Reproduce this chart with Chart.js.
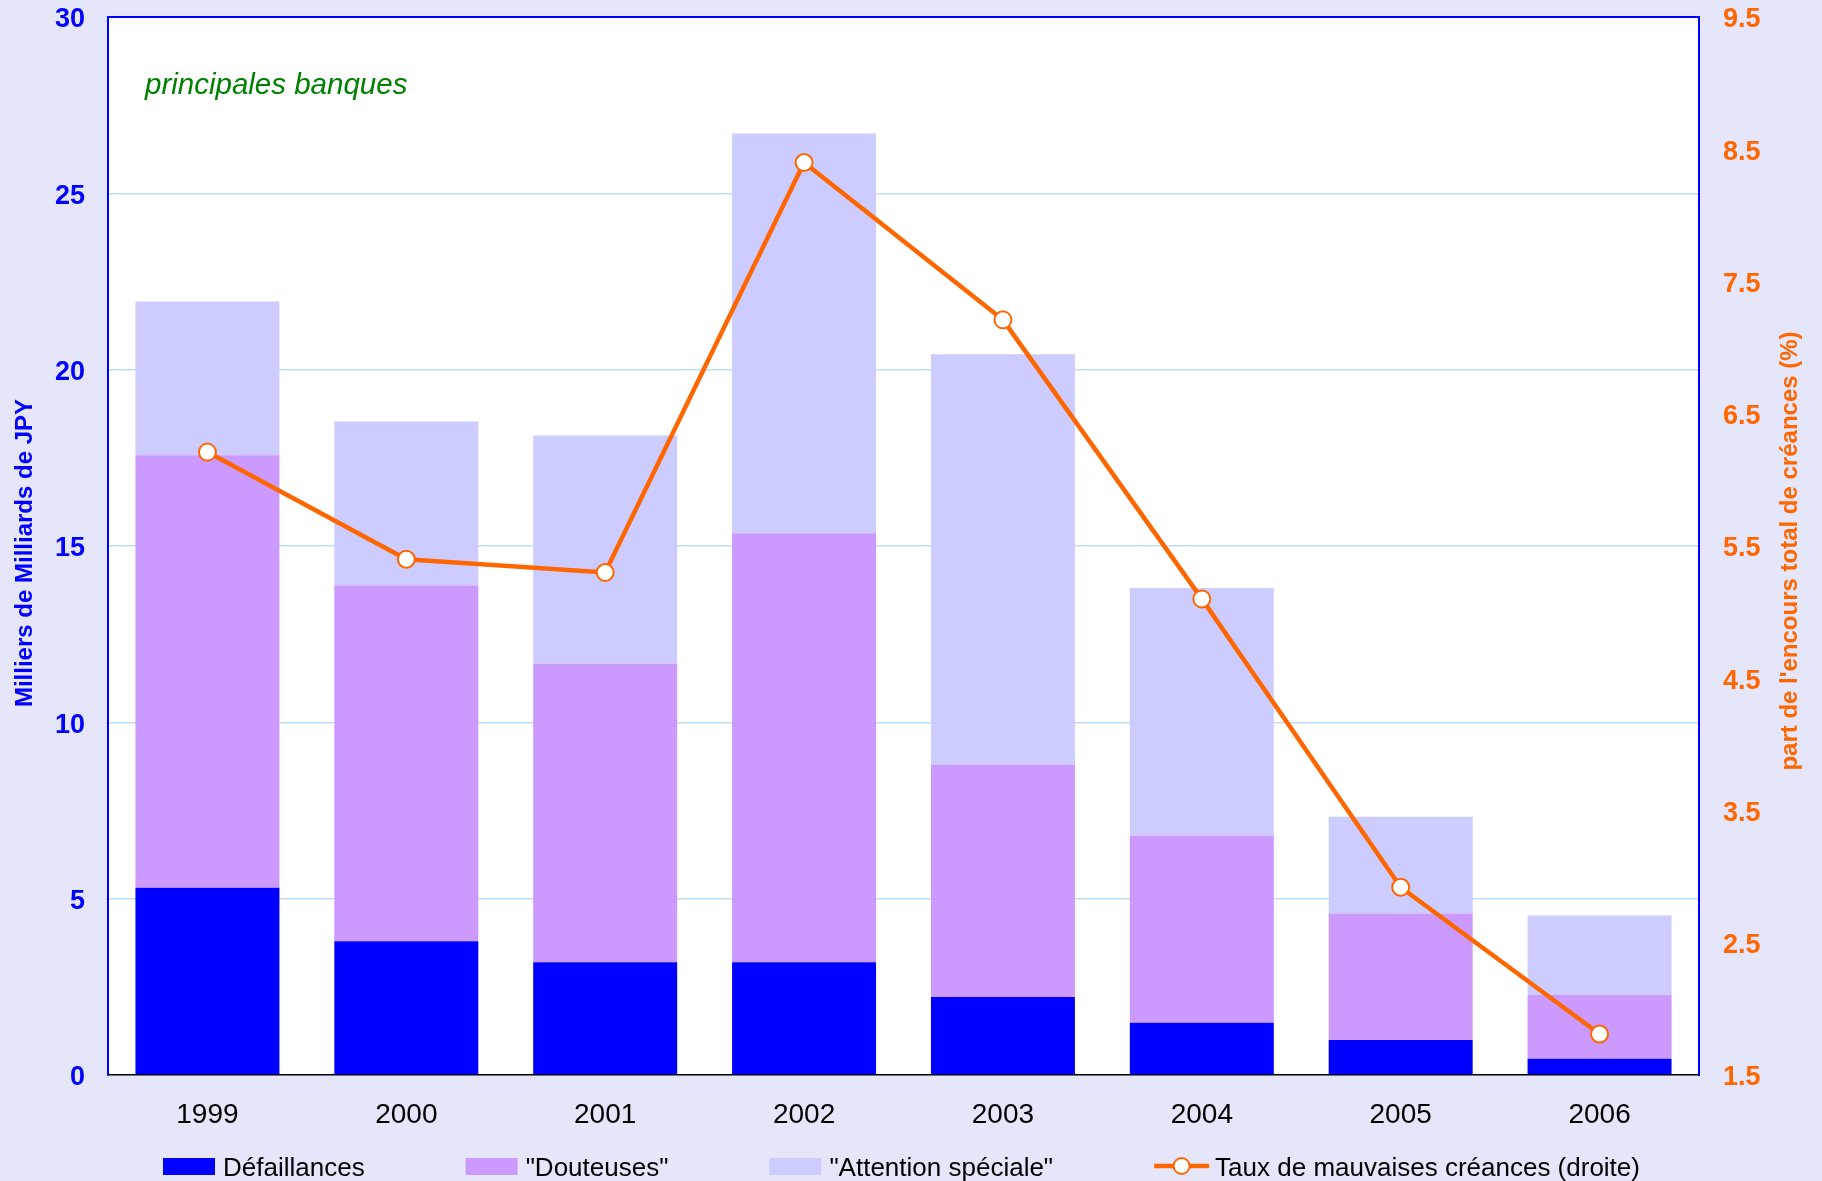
<!DOCTYPE html>
<html>
<head>
<meta charset="utf-8">
<script src="https://cdn.jsdelivr.net/npm/chart.js@4.4.1/dist/chart.umd.min.js"></script>
<style>
html,body{margin:0;padding:0;background:#E6E6FA;}
canvas{display:block;}
</style>
</head>
<body>
<canvas id="c" width="1822" height="1181"></canvas>
<script>
const years = ['1999','2000','2001','2002','2003','2004','2005','2006'];
const defaillances = [5.31, 3.79, 3.20, 3.20, 2.21, 1.48, 0.99, 0.46];
const douteuses = [12.26, 10.09, 8.47, 12.16, 6.59, 5.31, 3.59, 1.81];
const attention = [4.36, 4.65, 6.46, 11.34, 11.64, 7.02, 2.74, 2.25];
const tauxMauvaises = [6.21, 5.40, 5.30, 8.40, 7.21, 5.10, 2.92, 1.81];
const seriesNames = ['Défaillances', '"Douteuses"', '"Attention spéciale"', 'Taux de mauvaises créances (droite)'];
const leftTitle = 'Milliers de Milliards de JPY';
const rightTitle = "part de l'encours total de créances (%)";
const annotation = 'principales banques';

const BLUE = '#0000FF', VIOLET = '#CC99FF', LAV = '#CCCCFF', ORANGE = '#FF6600';
const FONT = '"Liberation Sans", Arial, sans-serif';

const decor = {
  id: 'decor',
  beforeDraw(chart) {
    const {ctx, chartArea: a} = chart;
    ctx.save();
    ctx.fillStyle = '#E6E6FA';
    ctx.fillRect(0, 0, chart.width, chart.height);
    ctx.fillStyle = '#FFFFFF';
    ctx.fillRect(a.left, a.top, a.right - a.left, a.bottom - a.top);
    ctx.restore();
  },
  afterDraw(chart) {
    const {ctx, chartArea: a} = chart;
    ctx.save();
    ctx.strokeStyle = BLUE; ctx.lineWidth = 2;
    ctx.beginPath(); ctx.moveTo(a.left - 1, a.top); ctx.lineTo(a.right + 1, a.top); ctx.stroke();
    ctx.fillStyle = '#008000';
    ctx.font = 'italic 29.5px ' + FONT;
    ctx.textBaseline = 'alphabetic'; ctx.textAlign = 'left';
    ctx.fillText(annotation, a.left + 37, a.top + 77);
    ctx.font = 'bold 24px ' + FONT;
    ctx.textAlign = 'center'; ctx.textBaseline = 'middle';
    ctx.save();
    ctx.translate(25, 553); ctx.rotate(-Math.PI / 2);
    ctx.fillStyle = BLUE; ctx.fillText(leftTitle, 0, 0);
    ctx.restore();
    ctx.save();
    ctx.translate(1790, 551); ctx.rotate(-Math.PI / 2);
    ctx.fillStyle = ORANGE; ctx.fillText(rightTitle, 0, 0);
    ctx.restore();
    ctx.font = '26px ' + FONT;
    ctx.textAlign = 'left'; ctx.textBaseline = 'alphabetic';
    const colors = [BLUE, VIOLET, LAV];
    const gap = 101;
    let x = 163;
    const baseY = 1176;
    for (let i = 0; i < 4; i++) {
      const mw = i < 3 ? 52 : 55;
      if (i < 3) {
        ctx.fillStyle = colors[i];
        ctx.fillRect(x, 1158, 52, 17);
      } else {
        ctx.strokeStyle = ORANGE; ctx.lineWidth = 4.5;
        ctx.beginPath(); ctx.moveTo(x, 1166); ctx.lineTo(x + mw, 1166); ctx.stroke();
        ctx.beginPath(); ctx.arc(x + mw / 2, 1166, 8, 0, Math.PI * 2);
        ctx.fillStyle = '#FFFFFF'; ctx.fill();
        ctx.lineWidth = 2; ctx.stroke();
      }
      const tx = x + mw + (i < 3 ? 8 : 6);
      ctx.fillStyle = '#000000';
      ctx.fillText(seriesNames[i], tx, baseY);
      x = tx + ctx.measureText(seriesNames[i]).width + gap;
    }
    ctx.restore();
  }
};

function noPad(s) { s.paddingTop = 0; s.paddingBottom = 0; }

new Chart(document.getElementById('c'), {
  type: 'bar',
  data: {
    labels: years,
    datasets: [
      {label: seriesNames[0], data: defaillances, backgroundColor: BLUE, yAxisID: 'y', order: 1},
      {label: seriesNames[1], data: douteuses, backgroundColor: VIOLET, yAxisID: 'y', order: 1},
      {label: seriesNames[2], data: attention, backgroundColor: LAV, yAxisID: 'y', order: 1},
      {type: 'line', label: seriesNames[3], data: tauxMauvaises, yAxisID: 'y1', order: 0,
       borderColor: ORANGE, borderWidth: 4.5, backgroundColor: '#FFFFFF',
       pointRadius: 8.5, pointBorderWidth: 2, pointBorderColor: ORANGE, pointBackgroundColor: '#FFFFFF',
       tension: 0, fill: false}
    ]
  },
  options: {
    responsive: false,
    animation: false,
    devicePixelRatio: 1,
    layout: {padding: {top: 17, left: 0, right: 0, bottom: 0}},
    datasets: {bar: {categoryPercentage: 1, barPercentage: 0.724}},
    plugins: {legend: {display: false}, tooltip: {enabled: false}},
    scales: {
      x: {
        stacked: true,
        grid: {display: false, drawTicks: false},
        border: {color: '#000000', width: 1.5},
        ticks: {color: '#000000', font: {family: FONT, size: 28}, padding: 23},
        afterFit(s) { s.height = 106; s.paddingLeft = 0; s.paddingRight = 0; }
      },
      y: {
        stacked: true, position: 'left', min: 0, max: 30,
        grid: {color: '#BFDDF8', lineWidth: 1.5, drawTicks: false},
        border: {color: BLUE, width: 2},
        ticks: {stepSize: 5, color: BLUE, font: {family: FONT, size: 27, weight: 'bold'}, padding: 23, labelOffset: 3},
        afterFit(s) { s.width = 108; noPad(s); }
      },
      y1: {
        position: 'right', min: 1.5, max: 9.5,
        grid: {drawOnChartArea: false, drawTicks: false},
        border: {color: BLUE, width: 2},
        ticks: {stepSize: 1, color: ORANGE, font: {family: FONT, size: 27, weight: 'bold'}, padding: 24, labelOffset: 3,
                callback: v => v.toFixed(1)},
        afterFit(s) { s.width = 123; noPad(s); }
      }
    }
  },
  plugins: [decor]
});
</script>
</body>
</html>
